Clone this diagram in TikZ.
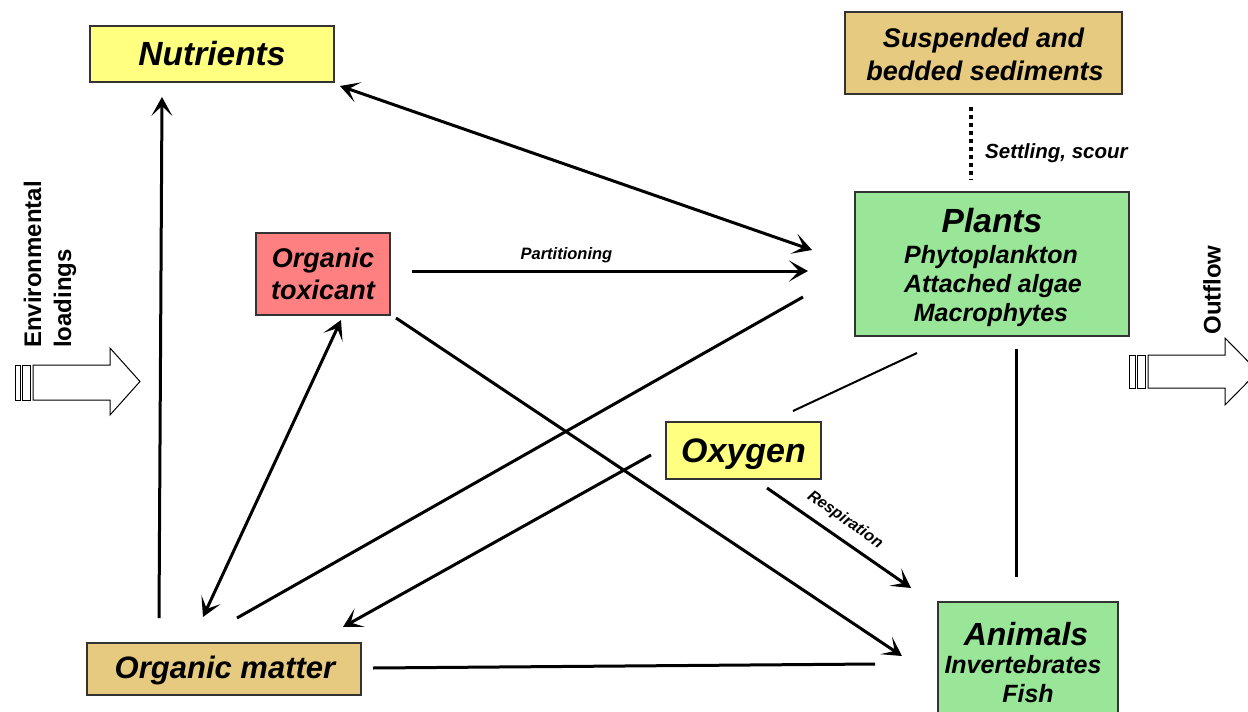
\documentclass[tikz,border=0pt]{standalone}
\usepackage{fontspec}
\setmainfont{Liberation Sans}
\usetikzlibrary{arrows.meta}
\definecolor{boxyellow}{HTML}{FFFF80}
\definecolor{boxtan}{HTML}{E5CA80}
\definecolor{boxpink}{HTML}{FF8080}
\definecolor{boxgreen}{HTML}{99E699}
\definecolor{boxline}{HTML}{333333}
\tikzset{
  box/.style={draw=boxline, line width=1.4pt, inner sep=0pt},
  bi/.style={font=\bfseries\itshape\fontsize{#1}{#1}\selectfont, inner sep=0pt, anchor=base},
  conn/.style={line width=3pt, line cap=butt},
  head/.style={-{Stealth[length=19pt,width=21pt,inset=10pt]}},
  twohead/.style={{Stealth[length=19pt,width=21pt,inset=10pt]}-{Stealth[length=19pt,width=21pt,inset=10pt]}},
  blockarrow/.style={draw=black, fill=white, line width=1pt},
  lbl/.style={font=\bfseries\itshape\fontsize{#1}{#1}\selectfont, inner sep=0pt},
  side/.style={font=\bfseries\fontsize{24}{30}\selectfont, inner sep=0pt, rotate=90, align=left}
}
\begin{document}
\begin{tikzpicture}[x=1pt,y=-1pt]
\useasboundingbox (0,0) rectangle (1248,712);
\clip (0,0) rectangle (1248,712);
\fill[white] (0,0) rectangle (1248,712);

% boxes
\node[box, fill=boxyellow, minimum width=244pt, minimum height=56pt] (nutr) at (212,54) {};
\node[bi=33.5] (nutrT) at (212,65) {Nutrients};

\node[box, fill=boxtan, minimum width=277pt, minimum height=82pt] (sed) at (983.5,53) {};
\node[bi=27] (sedT1) at (983.5,47) {Suspended and};
\node[bi=27] (sedT2) at (985,80) {bedded sediments};

\node[box, fill=boxpink, minimum width=134pt, minimum height=82pt] (tox) at (323,274) {};
\node[bi=27] (toxT1) at (323,267) {Organic};
\node[bi=27] (toxT2) at (323,299) {toxicant};

\node[box, fill=boxgreen, minimum width=274pt, minimum height=144pt] (plants) at (992,264) {};
\node[bi=33.5] (plT1) at (992,232) {Plants};
\node[bi=25] (plT2) at (991,263) {Phytoplankton};
\node[bi=25] (plT3) at (993,292) {Attached algae};
\node[bi=25] (plT4) at (991,321) {Macrophytes};

\node[box, fill=boxyellow, minimum width=155pt, minimum height=57pt] (oxy) at (743.5,450.5) {};
\node[bi=34] (oxyT) at (743.5,462) {Oxygen};

\node[box, fill=boxtan, minimum width=274pt, minimum height=52pt] (om) at (224,669) {};
\node[bi=31] (omT) at (225,678) {Organic matter};

\node[box, fill=boxgreen, minimum width=180pt, minimum height=120pt] (anim) at (1028,662) {};
\node[bi=32] (anT1) at (1026,645) {Animals};
\node[bi=25] (anT2) at (1023,673) {Invertebrates};
\node[bi=25] (anT3) at (1028,702) {Fish};

% connector end points
\coordinate (omN) at (159,618);
\coordinate (nutrS) at (162,97);
\coordinate (nutrE) at (340,86);
\coordinate (plW1) at (812,250);
\coordinate (toxE) at (412,271);
\coordinate (plW2) at (808,271);
\coordinate (toxSE) at (396,318);
\coordinate (anNW) at (902,656);
\coordinate (omN2) at (203,617);
\coordinate (toxS) at (341,320);
\coordinate (plSW) at (803,297);
\coordinate (omN3) at (237,618);
\coordinate (oxyW) at (651,455);
\coordinate (omNE) at (343,627);
\coordinate (oxyNE) at (793,411);
\coordinate (plS) at (917,353);
\coordinate (oxySE) at (767,488);
\coordinate (anN) at (911,588);
\coordinate (omE) at (373,668);
\coordinate (anW) at (875,664);
\coordinate (plS2) at (1016,349);
\coordinate (anN2) at (1016,577);
\coordinate (sedS) at (971,107);
\coordinate (plN) at (971,180);

% connectors
\draw[conn, head] (omN) -- (nutrS);
\draw[conn, twohead] (nutrE) -- (plW1);
\draw[conn, head] (toxE) -- node[lbl=16.5, above=7pt, pos=0.39] (partL) {Partitioning} (plW2);
\draw[conn, head] (toxSE) -- (anNW);
\draw[conn, twohead] (omN2) -- (toxS);
\draw[conn] (plSW) -- (omN3);
\draw[conn, head] (oxyW) -- (omNE);
\draw[line width=2pt] (oxyNE) -- (plS);
\draw[conn, head] (oxySE) -- (anN);
\node[lbl=16, rotate=-35] (respL) at (845,520) {Respiration};
\draw[conn] (omE) -- (anW);
\draw[conn] (plS2) -- (anN2);
\draw[line width=4pt, dash pattern=on 4pt off 4pt] (sedS) -- (plN);
\node[lbl=20.5, anchor=base west] (settL) at (985,158) {Settling, scour};

% environmental loadings block arrow
\draw[blockarrow] (15,365) rectangle (20,400);
\draw[blockarrow] (22,365) rectangle (30,400);
\draw[blockarrow] (33,365) -- (110,365) -- (110,348) -- (140,381.5) -- (110,415) -- (110,400) -- (33,400) -- cycle;
\node[side, anchor=west] (envL) at (50,348) {Environmental\\loadings};

% outflow block arrow
\draw[blockarrow] (1129,355) rectangle (1135,388);
\draw[blockarrow] (1137,355) rectangle (1145,388);
\draw[blockarrow] (1148,355) -- (1225,355) -- (1225,338) -- (1258,371.5) -- (1225,405) -- (1225,388) -- (1148,388) -- cycle;
\node[side] (outL) at (1212,290) {Outflow};
\end{tikzpicture}
\end{document}
